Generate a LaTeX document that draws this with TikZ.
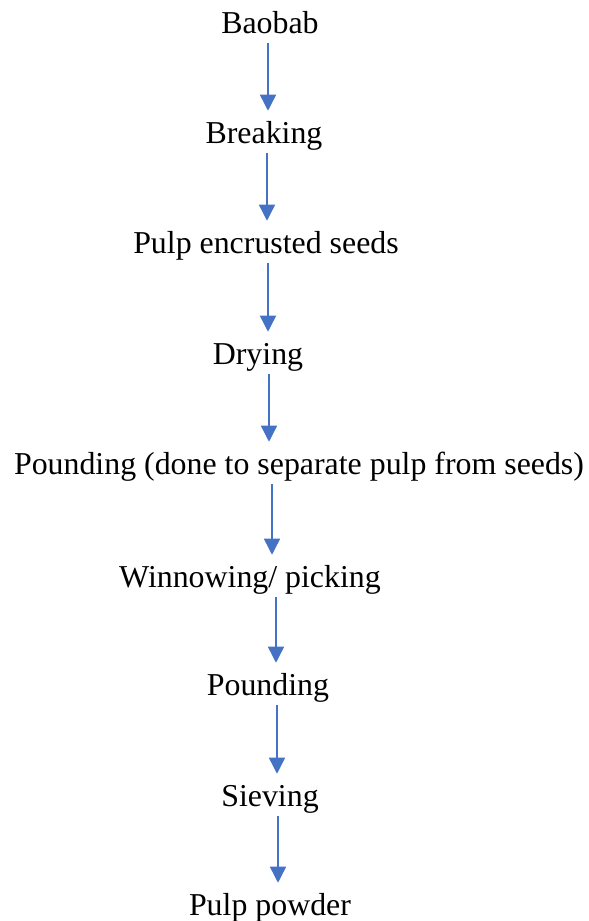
\documentclass[tikz,border=0pt]{standalone}
\usepackage{fontspec}
\setmainfont{Liberation Serif}
\usetikzlibrary{arrows.meta}
\definecolor{arrblue}{HTML}{4472C4}
\begin{document}
\begin{tikzpicture}[x=0.75pt,y=-0.75pt,
  lbl/.style={inner sep=0pt, anchor=base, text height=24pt, text depth=7pt,
    font=\fontsize{23.9}{28}\selectfont},
  arr/.style={draw=arrblue, line width=1.1pt, -{Triangle[length=12pt,width=12pt]}}]
\useasboundingbox (0,0) rectangle (589,921);
\node[lbl] (n1) at (270,33) {Baobab};
\node[lbl] (n2) at (264,143) {Breaking};
\node[lbl] (n3) at (266,253) {Pulp encrusted seeds};
\node[lbl] (n4) at (258,364) {Drying};
\node[lbl] (n5) at (299,474) {Pounding (done to separate pulp from seeds)};
\node[lbl] (n6) at (250,587) {Winnowing/ picking};
\node[lbl] (n7) at (268,695) {Pounding};
\node[lbl] (n8) at (270,806) {Sieving};
\node[lbl] (n9) at (270,915) {Pulp powder};
\coordinate (c1) at (268,0);
\coordinate (c2) at (267,0);
\coordinate (c3) at (268,0);
\coordinate (c4) at (269,0);
\coordinate (c5) at (272,0);
\coordinate (c6) at (276,0);
\coordinate (c7) at (277,0);
\coordinate (c8) at (278,0);
\draw[arr] (n1.south -| c1) -- (n2.north -| c1);
\draw[arr] (n2.south -| c2) -- (n3.north -| c2);
\draw[arr] (n3.south -| c3) -- (n4.north -| c3);
\draw[arr] (n4.south -| c4) -- (n5.north -| c4);
\draw[arr] (n5.south -| c5) -- (n6.north -| c5);
\draw[arr] (n6.south -| c6) -- (n7.north -| c6);
\draw[arr] (n7.south -| c7) -- (n8.north -| c7);
\draw[arr] (n8.south -| c8) -- (n9.north -| c8);
\end{tikzpicture}
\end{document}
